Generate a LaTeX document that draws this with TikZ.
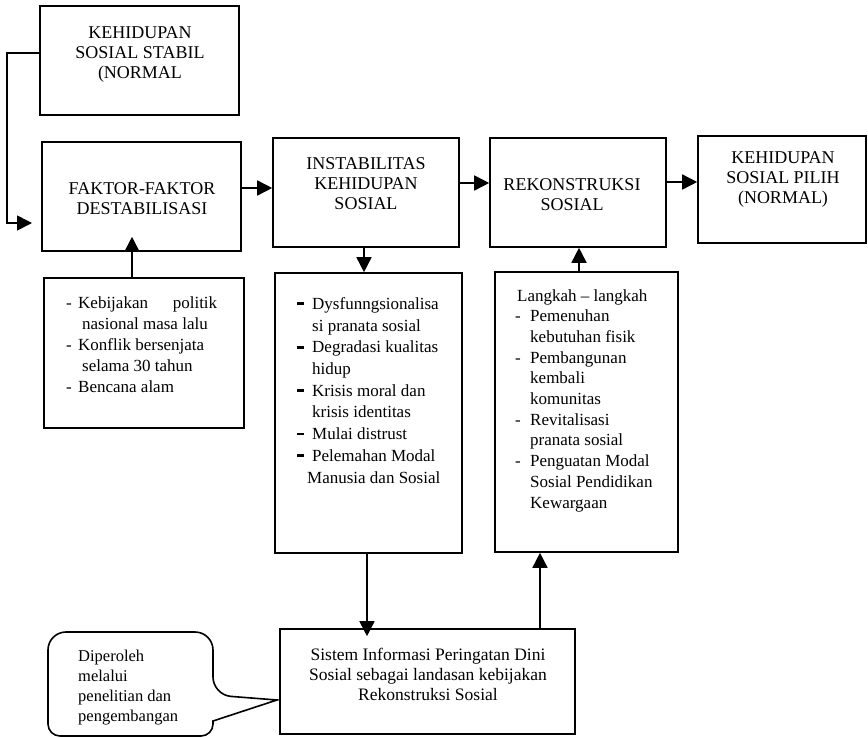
\documentclass[tikz,border=0pt]{standalone}
\usepackage{fontspec}
\setmainfont{Liberation Serif}
\usetikzlibrary{arrows.meta,calc}
\newcommand\bdash{\rule[0.25em]{0.42em}{0.16em}}
\begin{document}
\begin{tikzpicture}[x=1pt,y=-1pt,
  box/.style={draw, line width=1.6pt, inner sep=0pt, rectangle},
  arr/.style={line width=1.6pt, -{Triangle[length=15pt,width=15pt]}},
  ln/.style={line width=1.6pt},
  ttl/.style={font=\fontsize{18}{20}\selectfont, align=center, inner sep=0pt},
  lst/.style={font=\fontsize{17}{21.7}\selectfont, align=left, inner sep=0pt, anchor=base west},
]
\useasboundingbox[fill=white] (0,0) rectangle (868,738);

% boxes
\node[box, minimum width=199pt, minimum height=109pt] (top) at (139.5,60.5) {};
\node[box, minimum width=199pt, minimum height=109pt] (faktor) at (141.5,196.5) {};
\node[box, minimum width=186pt, minimum height=109pt] (instab) at (366,192.5) {};
\node[box, minimum width=176pt, minimum height=109pt] (rekon) at (578,192.5) {};
\node[box, minimum width=168pt, minimum height=107pt] (pilih) at (782,189.5) {};
\node[box, minimum width=200pt, minimum height=150pt] (keb) at (144,353) {};
\node[box, minimum width=187pt, minimum height=280pt] (dys) at (368.5,413) {};
\node[box, minimum width=183pt, minimum height=280pt] (lang) at (586.5,412) {};
\node[box, minimum width=295pt, minimum height=105pt] (sis) at (427.5,681.5) {};

% titles
\node[ttl] (topT) at (140,54) {KEHIDUPAN\\SOSIAL STABIL\\(NORMAL};
\node[ttl] (faktorT) at (142,199) {FAKTOR-FAKTOR\\DESTABILISASI};
\node[ttl] (instabT) at (366,184) {INSTABILITAS\\KEHIDUPAN\\SOSIAL};
\node[ttl] (rekonT) at (572,195) {REKONSTRUKSI\\SOSIAL};
\node[ttl] (pilihT) at (783,179) {KEHIDUPAN\\SOSIAL PILIH\\(NORMAL)};

% lists (anchor = baseline of the last line)
\node[lst, font=\fontsize{17}{21}\selectfont] (kebT) at (66,392) {%
\makebox[12pt][l]{-}\hbox to 139pt{Kebijakan\hfill politik}\\
\hspace{16pt}nasional masa lalu\\
\makebox[12pt][l]{-}Konflik bersenjata\\
\hspace{16pt}selama 30 tahun\\
\makebox[12pt][l]{-}Bencana alam};

\node[lst] (dysT) at (297,483) {%
\makebox[15pt][l]{\bdash}Dysfunngsionalisa\\
\hspace{15pt}si pranata sosial\\
\makebox[15pt][l]{\bdash}Degradasi kualitas\\
\hspace{15pt}hidup\\
\makebox[15pt][l]{\bdash}Krisis moral dan\\
\hspace{15pt}krisis identitas\\
\makebox[15pt][l]{\bdash}Mulai distrust\\
\makebox[15pt][l]{\bdash}Pelemahan Modal\\
\hspace{10pt}Manusia dan Sosial};

\node[lst, font=\fontsize{17}{20.7}\selectfont] (langT) at (515,508) {%
\hspace{2pt}Langkah -- langkah\\
\makebox[15pt][l]{-}Pemenuhan\\
\hspace{15pt}kebutuhan fisik\\
\makebox[15pt][l]{-}Pembangunan\\
\hspace{15pt}kembali\\
\hspace{15pt}komunitas\\
\makebox[15pt][l]{-}Revitalisasi\\
\hspace{15pt}pranata sosial\\
\makebox[15pt][l]{-}Penguatan Modal\\
\hspace{15pt}Sosial Pendidikan\\
\hspace{15pt}Kewargaan};

\node[ttl, font=\fontsize{17.5}{20}\selectfont] (sisT) at (428,674) {Sistem Informasi Peringatan Dini\\Sosial sebagai landasan kebijakan\\Rekonstruksi Sosial};

% callout
\draw[ln] (48,684) [rounded corners=18pt] -- (48,632) -- (213,632) -- (213,695) [sharp corners] -- (277,700) -- (213,721) [rounded corners=12pt] -- (213,736) -- (48,736) -- (48,684);
\node[lst, font=\fontsize{16.5}{20}\selectfont] (calT) at (78,721) {Diperoleh\\melalui\\penelitian dan\\pengembangan};

% connectors
\coordinate (bendA) at (7,53);
\coordinate (tipA) at (32,223);
\draw[arr] ([yshift=7.5pt]top.west) -- (bendA) |- (tipA);
\draw[arr] (faktor.east |- 0,188) -- (instab.west |- 0,188);
\draw[arr] (instab.east |- 0,183) -- (rekon.west |- 0,183);
\draw[arr] (rekon.east |- 0,182) -- (pilih.west |- 0,182);
\draw[arr, shorten >=-15pt] (keb.north -| 132,0) -- (faktor.south -| 132,0);
\draw[arr] (instab.south -| 364,0) -- (dys.north -| 364,0);
\draw[arr] (lang.north -| 579,0) -- (rekon.south -| 579,0);
\draw[arr, shorten >=-8pt] (dys.south -| 367,0) -- (sis.north -| 367,0);
\draw[arr] (sis.north -| 540,0) -- (lang.south -| 540,0);
\end{tikzpicture}
\end{document}
